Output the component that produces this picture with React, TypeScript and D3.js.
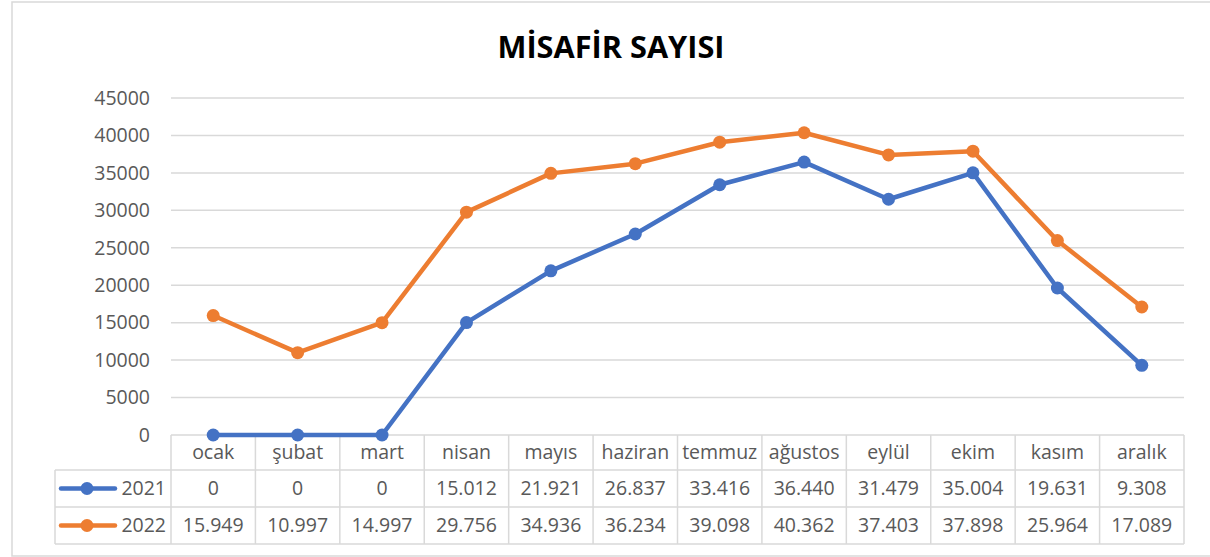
import React from 'react';
import * as d3 from 'd3';

const months = ['ocak', 'şubat', 'mart', 'nisan', 'mayıs', 'haziran', 'temmuz', 'ağustos', 'eylül', 'ekim', 'kasım', 'aralık'];
const series2021 = [0, 0, 0, 15012, 21921, 26837, 33416, 36440, 31479, 35004, 19631, 9308];
const series2022 = [15949, 10997, 14997, 29756, 34936, 36234, 39098, 40362, 37403, 37898, 25964, 17089];
const seriesNames = ['2021', '2022'];
const yTicks = [0, 5000, 10000, 15000, 20000, 25000, 30000, 35000, 40000, 45000];

const W = 1210;
const H = 557;
const colors = ['#4472C4', '#ED7D31'];
const gridColor = '#d9d9d9';
const textColor = '#595959';
const font = "'Open Sans', 'Noto Sans', sans-serif";
const fs = 19.5;

// turkish thousand separator: 15012 -> 15.012
const fmtTr = (v: number) => (v === 0 ? '0' : d3.format(',')(v).replace(/,/g, '.'));

const App: React.FC = () => {
    const plotLeft = 171;
    const plotRight = 1184;
    const x = d3.scaleBand<string>().domain(months).range([plotLeft, plotRight]);
    const y = d3.scaleLinear().domain([0, 45000]).range([435, 98]);

    const rowTop = 435;
    const rowBounds = [435, 470, 507, 544];
    const tableLeft = 55;

    const cx = (i: number) => (x(months[i]) as number) + x.bandwidth() / 2;

    const line = d3.line<number>()
        .x((_, i) => cx(i))
        .y(d => y(d));

    const allSeries = [series2021, series2022];

    return (
        <div style={{ position: 'fixed', left: 0, top: 0 }}>
            <svg width={W} height={H} style={{ display: 'block', background: '#fff' }}>
                {/* chart frame */}
                <rect x={12} y={2} width={W + 10} height={554} fill="#fff" stroke={gridColor} strokeWidth={1.5} />

                <text
                    x={611}
                    y={58}
                    textAnchor="middle"
                    fontFamily={font}
                    fontWeight="bold"
                    fontSize={30}
                    fill="#000"
                    textLength={227}
                    lengthAdjust="spacingAndGlyphs"
                >
                    MİSAFİR SAYISI
                </text>

                {/* gridlines + y labels */}
                {yTicks.map(t => (
                    <g key={t}>
                        {t > 0 && (
                            <line x1={plotLeft} x2={plotRight} y1={y(t)} y2={y(t)} stroke={gridColor} strokeWidth={1.5} />
                        )}
                        <text x={150} y={y(t)} dy="0.35em" textAnchor="end" fontFamily={font} fontSize={fs} fill={textColor}>
                            {t}
                        </text>
                    </g>
                ))}

                {/* data table */}
                <g stroke={gridColor} strokeWidth={1.5} fill="none">
                    <line x1={plotLeft} x2={plotRight} y1={rowTop} y2={rowTop} />
                    {rowBounds.slice(1).map(b => (
                        <line key={b} x1={tableLeft} x2={plotRight} y1={b} y2={b} />
                    ))}
                    <line x1={tableLeft} x2={tableLeft} y1={rowBounds[1]} y2={rowBounds[3]} />
                    {months.map(m => (
                        <line key={m} x1={x(m)} x2={x(m)} y1={rowTop} y2={rowBounds[3]} />
                    ))}
                    <line x1={plotRight} x2={plotRight} y1={rowTop} y2={rowBounds[3]} />
                </g>

                {months.map((m, i) => (
                    <text
                        key={m}
                        x={cx(i)}
                        y={(rowBounds[0] + rowBounds[1]) / 2}
                        dy="0.35em"
                        textAnchor="middle"
                        fontFamily={font}
                        fontSize={fs}
                        fill={textColor}
                    >
                        {m}
                    </text>
                ))}

                {allSeries.map((s, si) => {
                    const cy = (rowBounds[si + 1] + rowBounds[si + 2]) / 2;
                    return (
                        <g key={si}>
                            <line x1={61} x2={115} y1={cy} y2={cy} stroke={colors[si]} strokeWidth={4.5} strokeLinecap="round" />
                            <circle cx={87} cy={cy} r={6.5} fill={colors[si]} />
                            <text x={166} y={cy} dy="0.35em" textAnchor="end" fontFamily={font} fontSize={fs} fill={textColor}>
                                {seriesNames[si]}
                            </text>
                            {s.map((v, i) => (
                                <text
                                    key={i}
                                    x={cx(i)}
                                    y={cy}
                                    dy="0.35em"
                                    textAnchor="middle"
                                    fontFamily={font}
                                    fontSize={fs}
                                    fill={textColor}
                                >
                                    {fmtTr(v)}
                                </text>
                            ))}
                        </g>
                    );
                })}

                {/* lines */}
                {allSeries.map((s, si) => (
                    <g key={si}>
                        <path d={line(s) as string} fill="none" stroke={colors[si]} strokeWidth={4.5} strokeLinejoin="round" strokeLinecap="round" />
                        {s.map((v, i) => (
                            <circle key={i} cx={cx(i)} cy={y(v)} r={6.5} fill={colors[si]} />
                        ))}
                    </g>
                ))}
            </svg>
        </div>
    );
};

export default App;
